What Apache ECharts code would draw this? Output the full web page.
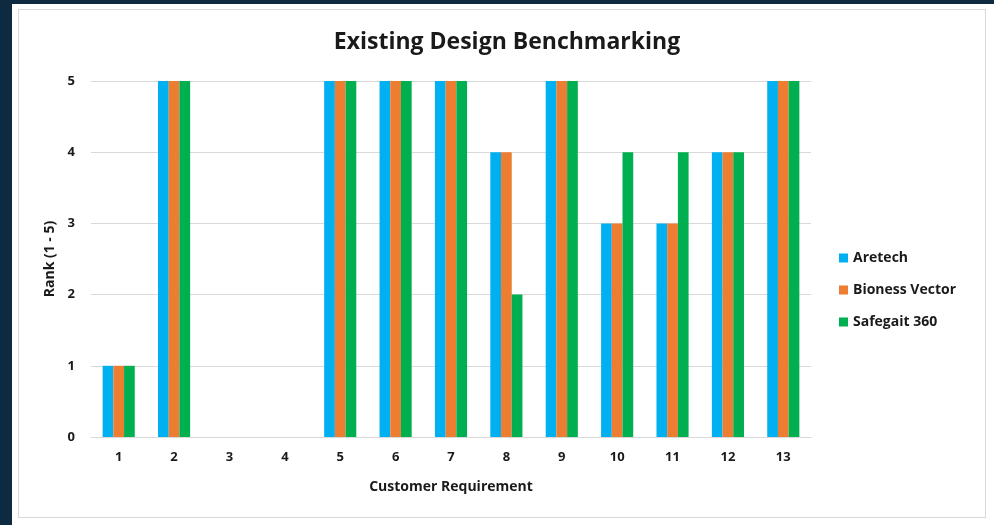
<!DOCTYPE html>
<html><head><meta charset="utf-8">
<script src="https://cdn.jsdelivr.net/npm/echarts@6/dist/echarts.min.js"></script>
<style>
html,body{margin:0;padding:0;background:#0e2a41;}
#wrap{position:absolute;left:12px;top:4px;width:982px;height:521px;background:#fff;}
#frame{position:absolute;left:6px;top:5px;width:966px;height:507px;border:1px solid #d9d9d9;}
#chart{position:absolute;left:0;top:0;width:994px;height:525px;}
</style></head>
<body>
<div id="wrap"><div id="frame"></div></div>
<div id="chart"></div>
<script>
const categories = ['1','2','3','4','5','6','7','8','9','10','11','12','13'];
const aretech = [1,5,0,0,5,5,5,4,5,3,3,4,5];
const bionessVector = [1,5,0,0,5,5,5,4,5,3,3,4,5];
const safegait360 = [1,5,0,0,5,5,5,2,5,4,4,4,5];
const yTicks = [0,1,2,3,4,5];

const font = '"Open Sans", "Liberation Sans", sans-serif';
const chart = echarts.init(document.getElementById('chart'));
const mk = (name, data, color) => ({
  name, type: 'bar', data, barGap: '0%', barCategoryGap: '42%',
  itemStyle: { color }
});
chart.setOption({
  animation: false,
  backgroundColor: 'transparent',
  textStyle: { fontFamily: font },
  title: {
    text: 'Existing Design Benchmarking', left: 502, top: 26, textAlign: 'center',
    textStyle: { fontSize: 23, fontWeight: 'bold', color: '#1a1a1a', fontFamily: font }
  },
  legend: {
    orient: 'vertical', left: 834, top: 246, itemWidth: 9, itemHeight: 9, itemGap: 18,
    icon: 'rect',
    textStyle: { fontSize: 14, fontWeight: 'bold', color: '#1a1a1a', fontFamily: font },
    data: ['Aretech', 'Bioness Vector', 'Safegait 360']
  },
  grid: { left: 91, right: 183, top: 81, bottom: 88, containLabel: false },
  xAxis: {
    type: 'category', data: categories,
    name: 'Customer Requirement', nameLocation: 'middle', nameGap: 43,
    nameTextStyle: { fontSize: 14, fontWeight: 'bold', color: '#1a1a1a' },
    axisLine: { lineStyle: { color: '#d9d9d9' } },
    axisTick: { show: false },
    axisLabel: { fontSize: 13, fontWeight: 'bold', color: '#1a1a1a', margin: 14 }
  },
  yAxis: {
    type: 'value', min: 0, max: 5, interval: 1,
    name: 'Rank (1 - 5)', nameLocation: 'middle', nameGap: 32, nameRotate: 90,
    nameTextStyle: { fontSize: 14, fontWeight: 'bold', color: '#1a1a1a' },
    axisLabel: { fontSize: 13, fontWeight: 'bold', color: '#1a1a1a', margin: 16,
      formatter: v => yTicks.includes(v) ? String(v) : '' },
    splitLine: { lineStyle: { color: '#d9d9d9' } },
    axisLine: { show: false }, axisTick: { show: false }
  },
  series: [
    mk('Aretech', aretech, '#00b0f0'),
    mk('Bioness Vector', bionessVector, '#ed7d31'),
    mk('Safegait 360', safegait360, '#00b050')
  ]
});
</script>
</body></html>
